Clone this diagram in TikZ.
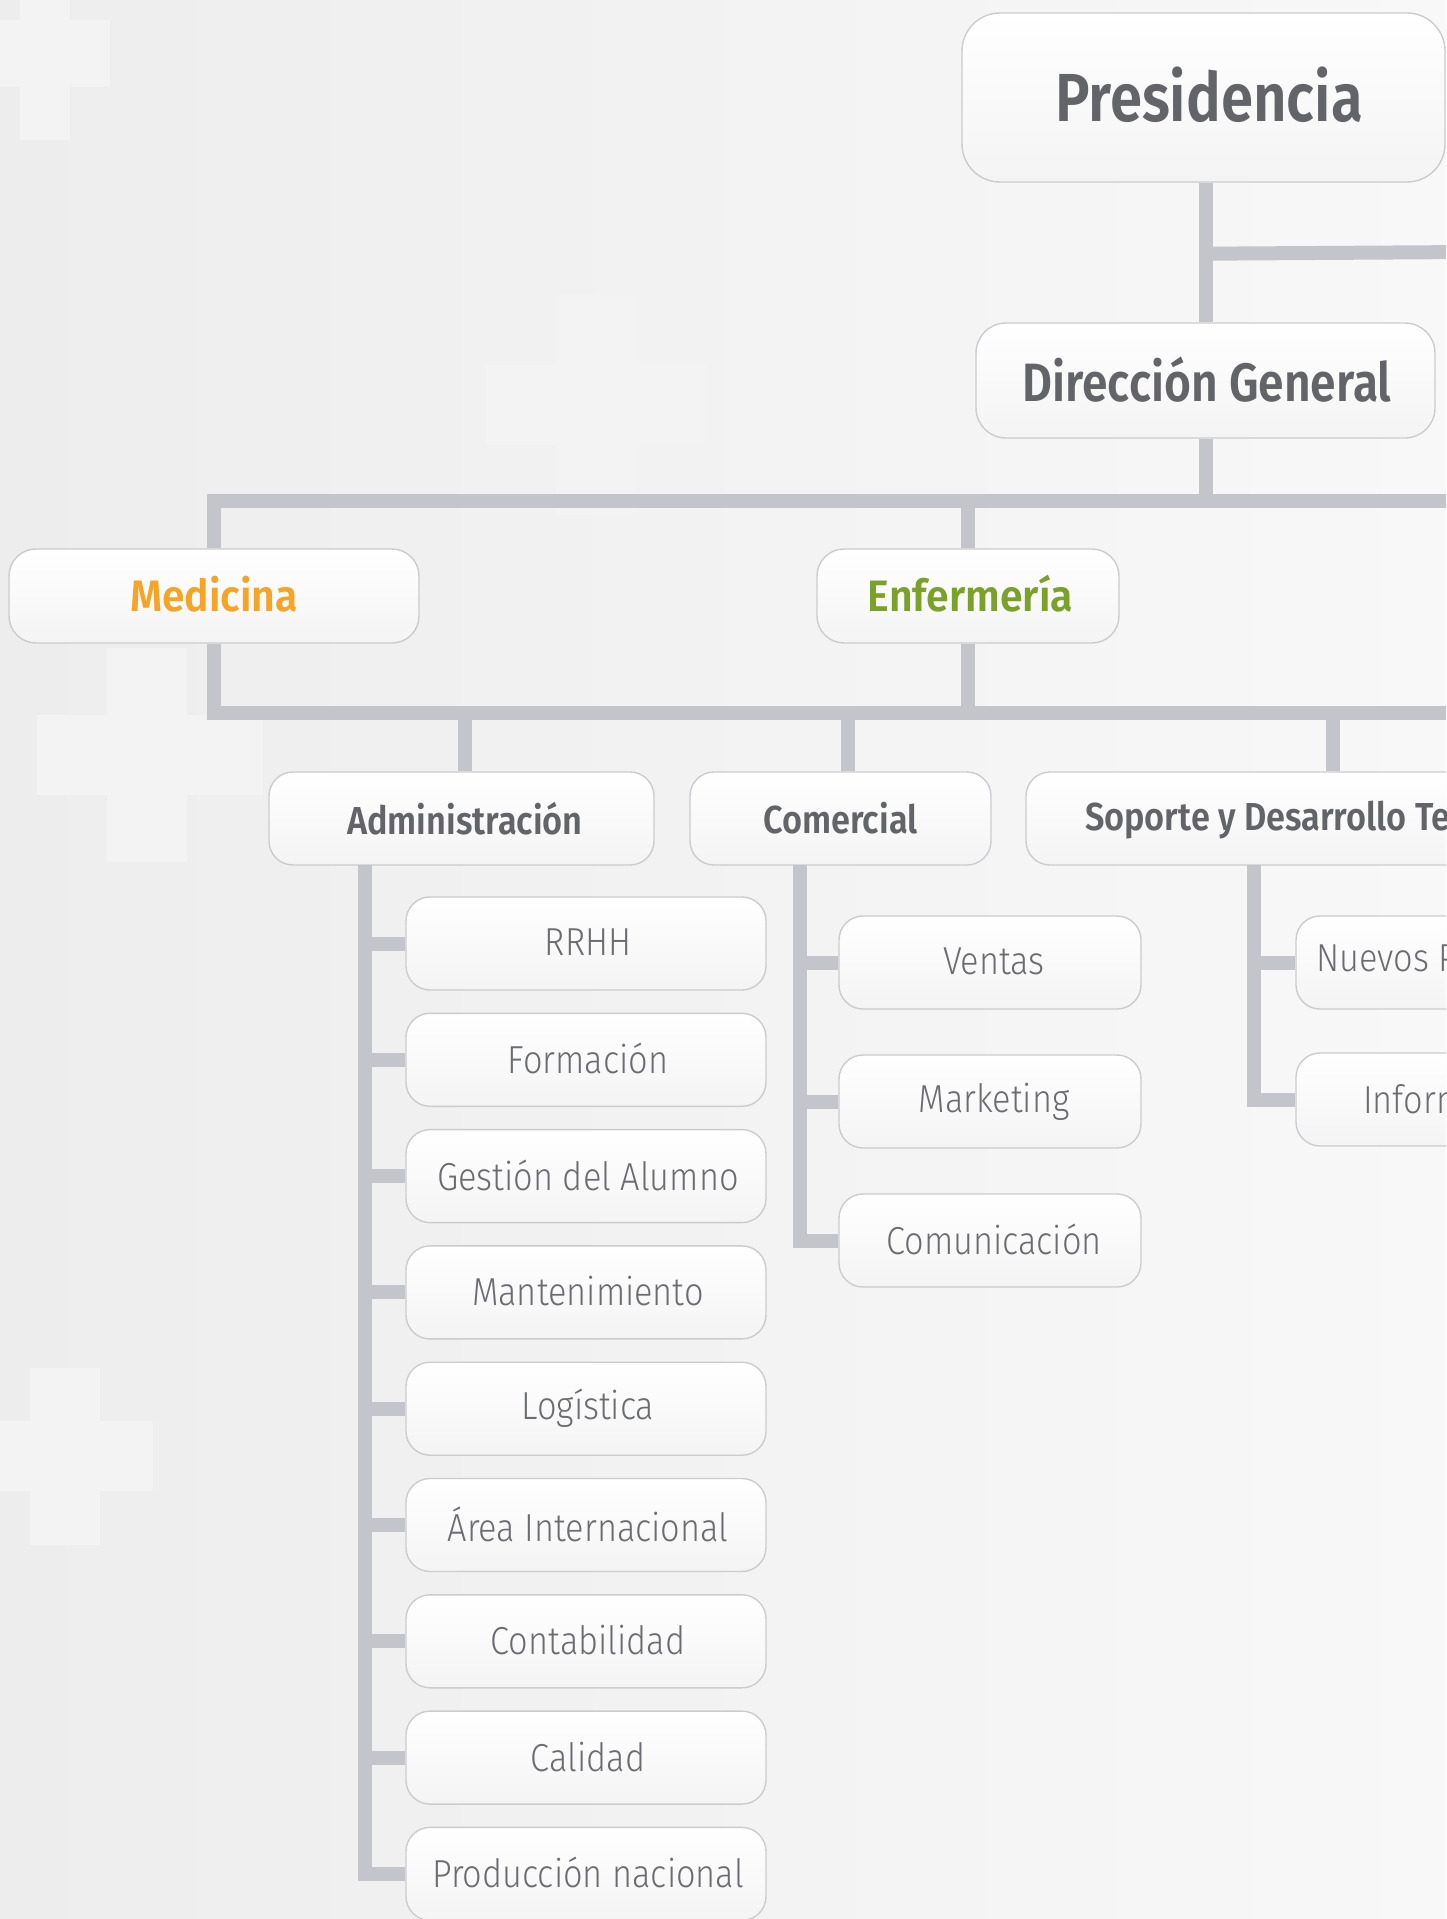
\documentclass[tikz,border=0pt]{standalone}
\usepackage{fontspec}
\setmainfont{Fira Sans}
\newfontfamily\hboldA{Fira Sans}[UprightFont=* SemiBold, FakeStretch=0.855]
\newfontfamily\hboldB{Fira Sans}[UprightFont=* SemiBold, FakeStretch=0.93]
\newfontfamily\hboldC{Fira Sans}[UprightFont=* SemiBold, FakeStretch=0.88]
\newfontfamily\hlight{Fira Sans}[UprightFont=* Light, FakeStretch=0.88]
\usetikzlibrary{calc}
\definecolor{linec}{HTML}{C4C5CA}
\definecolor{boxb}{HTML}{CBCCCF}
\definecolor{boxf}{HTML}{F4F4F5}
\definecolor{txtd}{HTML}{636468}
\definecolor{txtl}{HTML}{6B6C70}
\definecolor{orng}{HTML}{F4A427}
\definecolor{grn}{HTML}{7CA12B}
\definecolor{bgl}{HTML}{EDEDED}
\definecolor{bgr}{HTML}{F8F8F8}
\definecolor{crossc}{HTML}{F3F3F3}
\begin{document}
\begin{tikzpicture}[x=1pt,y=-1pt,
  conn/.style={draw=linec, line width=14pt, line join=miter},
  box/.style={draw=boxb, line width=1.4pt, rounded corners=24pt, top color=white, bottom color=boxf, inner sep=0pt, minimum height=93pt, text=txtd},
  lvl3/.style={box, font=\hboldC\fontsize{39}{44}\selectfont},
  leaf/.style={box, font=\hlight\fontsize{39}{44}\selectfont, text=txtl}]
\useasboundingbox (0,0) rectangle (1446,1919);
\clip (0,0) rectangle (1446,1919);
\shade[left color=bgl, right color=bgr] (0,0) rectangle (1446,1919);
% faint background crosses
\fill[crossc] (20,0) rectangle (70,140) (0,20) rectangle (110,87);
\fill[crossc] (556,295) rectangle (636,515) (486,365) rectangle (706,445);
\fill[crossc] (107,648) rectangle (187,862) (37,715) rectangle (263,795);
\fill[crossc] (30,1368) rectangle (100,1545) (0,1421) rectangle (153,1491);

% nodes
\node[box, rounded corners=38pt, minimum width=483pt, minimum height=169pt, font=\hboldA\fontsize{68}{72}\selectfont] (pres) at (1203.5,97.5) {\hspace*{11pt}\raisebox{7pt}{Presidencia}};
\node[box, rounded corners=30pt, minimum width=459pt, minimum height=115pt, font=\hboldA\fontsize{54}{60}\selectfont] (dg) at (1205.5,380.5) {\hspace*{3pt}\raisebox{3.5pt}{Dirección General}};
\node[box, rounded corners=27pt, minimum width=410pt, minimum height=94pt, font=\hboldB\fontsize{44}{50}\selectfont, text=orng] (med) at (214,596) {\raisebox{5pt}{Medicina}};
\node[box, rounded corners=27pt, minimum width=302pt, minimum height=94pt, font=\hboldB\fontsize{44}{50}\selectfont, text=grn] (enf) at (968,596) {\hspace*{5pt}\raisebox{5pt}{Enfermería}};
\node[lvl3, minimum width=385pt] (adm) at (461.5,818.5) {\hspace*{7pt}\raisebox{1pt}{Administración}};
\node[lvl3, minimum width=301pt] (com) at (840.5,818.5) {\raisebox{1pt}{Comercial}};
\node[lvl3, minimum width=614pt] (sop) at (1333,818.5) {\hspace*{20pt}\raisebox{1pt}{Soporte y Desarrollo Tecnológico}};

\foreach \n/\t [count=\k from 0] in {rrhh/RRHH, form/Formación, gest/Gestión del Alumno, mant/Mantenimiento, logi/Logística, area/Área Internacional, cont/Contabilidad, cali/Calidad, prod/Producción nacional}
  \node[leaf, minimum width=360pt] (\n) at (586,943.5+116.3*\k) {\hspace*{4pt}\raisebox{2.5pt}{\t}};

\node[leaf, minimum width=302pt] (vent) at (990,962.5) {\hspace*{8pt}\raisebox{2.5pt}{Ventas}};
\node[leaf, minimum width=302pt] (mark) at (990,1101.5) {\hspace*{8pt}\raisebox{2.5pt}{Marketing}};
\node[leaf, minimum width=302pt] (comu) at (990,1240.5) {\hspace*{8pt}\raisebox{2.5pt}{Comunicación}};

\node[leaf, minimum width=302pt] (nuev) at (1447,962.5) {\hspace*{8pt}\raisebox{2.5pt}{Nuevos Proyectos}};
\node[leaf, minimum width=302pt] (info) at (1447,1099.5) {\hspace*{8pt}\raisebox{2.5pt}{Informática}};

% coordinates
\coordinate (presR) at (1470,252);
\coordinate (b1) at (1206,501);
\coordinate (b1R) at (1470,501);
\coordinate (b2R) at (1470,713);
\coordinate (admT) at (365,865);
\coordinate (comT) at (800,865);
\coordinate (sopT) at (1254,865);

% connectors
\draw[conn] (pres.south -| b1) -- (dg.north -| b1);
\draw[conn] (pres.south -| b1) ++(0,71) -- (presR);
\draw[conn] (dg.south -| b1) -- (b1);
\draw[conn] (med.north) |- (b1R);
\draw[conn] (enf.north) -- (enf.north |- b1);
\draw[conn] (med.south) |- (b2R);
\draw[conn] (enf.south) -- (enf.south |- b2R);
\draw[conn] ([xshift=3.5pt]adm.north) -- ([xshift=3.5pt]adm.north |- b2R);
\draw[conn] ([xshift=7.5pt]com.north) -- ([xshift=7.5pt]com.north |- b2R);
\draw[conn] (sop.north) -- (sop.north |- b2R);

\draw[conn] (admT) |- (prod.west);
\foreach \n in {rrhh,form,gest,mant,logi,area,cont,cali}
  \draw[conn] (\n.west) -- (\n.west -| admT);
\draw[conn] (comT) |- (comu.west);
\foreach \n in {vent,mark}
  \draw[conn] (\n.west) -- (\n.west -| comT);
\draw[conn] (sopT) |- (info.west);
\draw[conn] (nuev.west) -- (nuev.west -| sopT);
\end{tikzpicture}
\end{document}
